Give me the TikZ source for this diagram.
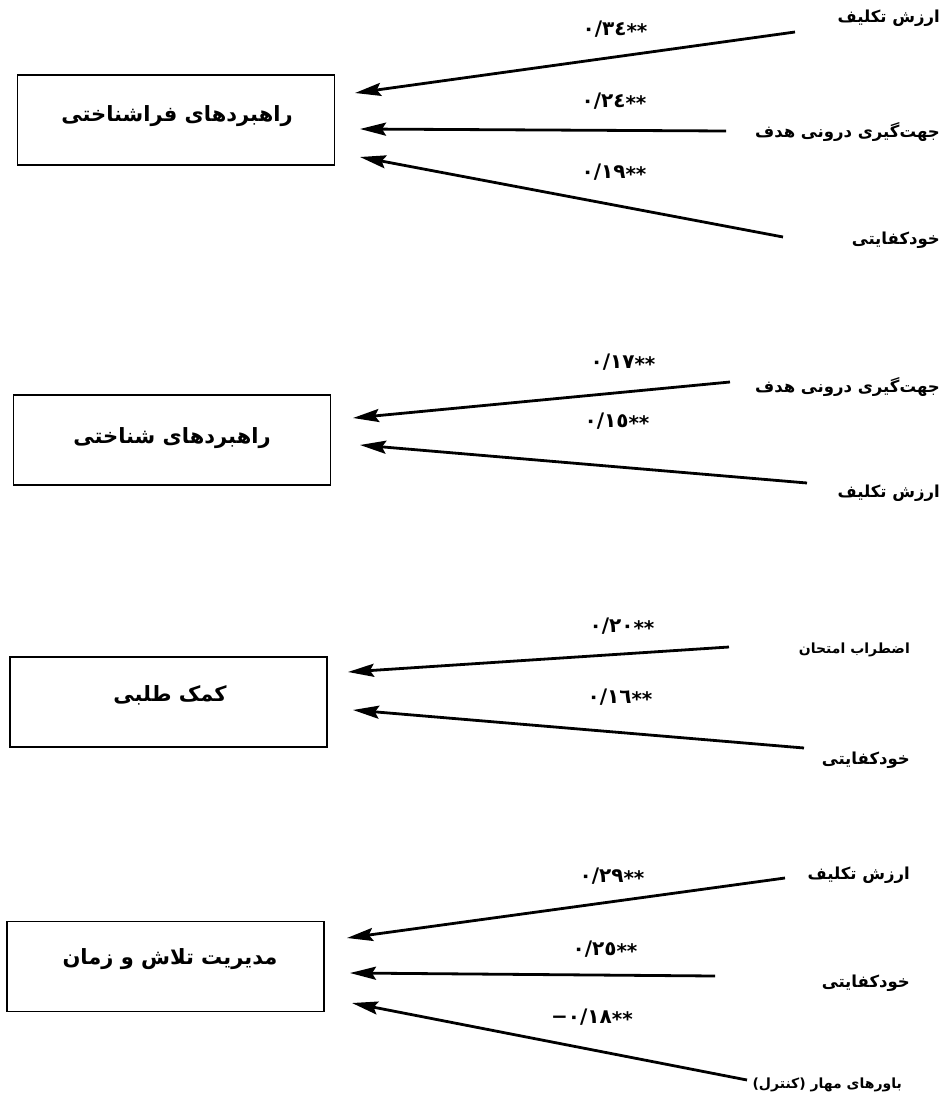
\documentclass[tikz,border=0pt]{standalone}
\usepackage{fontspec}
\setmainfont{DejaVu Sans}
\newfontfamily\fa[Script=Arabic]{DejaVu Sans}
\newfontfamily\numfont{DejaVu Sans}
\TeXXeTstate=1
\usetikzlibrary{arrows.meta}
\newcommand\rtl[1]{\beginR #1\endR}
\newcommand\stars{\raisebox{-0.3ex}{**}}
\tikzset{
  boxnode/.style={draw, line width=1.3pt, minimum width=317pt, minimum height=90pt, inner sep=0pt},
  boxtext/.style={inner sep=0pt, font=\fa\bfseries\fontsize{21}{25}\selectfont},
  srcnode/.style={anchor=east, inner sep=0pt, font=\fa\bfseries\fontsize{16.5}{19}\selectfont},
  srcsmall/.style={srcnode, font=\fa\bfseries\fontsize{14}{17}\selectfont},
  coefnode/.style={inner sep=0pt, font=\numfont\bfseries\fontsize{20}{22}\selectfont},
  arr/.style={line width=2.8pt, -{Stealth[length=26pt,width=13pt,inset=4pt]}}
}
\begin{document}
\begin{tikzpicture}[x=1pt,y=-1pt]
\useasboundingbox (0,0) rectangle (947,1097);
% ---------- group 1
\node[boxnode] (b1) at (176,120) {};
\node[boxtext] (l1) at (177,116) {\rtl{راهبردهای فراشناختی}};
\node[srcnode] (s1a) at (940,18) {\rtl{ارزش تکلیف}};
\node[srcnode] (s1b) at (940,132) {\rtl{جهت‌گیری درونی هدف}};
\node[srcnode] (s1c) at (940,240) {\rtl{خودکفایتی}};
\coordinate (t1a) at (795,32);  \coordinate (h1a) at (355,93);
\coordinate (t1b) at (726,131); \coordinate (h1b) at (360,129);
\coordinate (t1c) at (783,237); \coordinate (h1c) at (360,157);
\draw[arr] (t1a) -- (h1a);
\draw[arr] (t1b) -- (h1b);
\draw[arr] (t1c) -- (h1c);
\node[coefnode] (c1a) at (615,30) {٠/٣٤\stars};
\node[coefnode] (c1b) at (614,102) {٠/٢٤\stars};
\node[coefnode] (c1c) at (614,173) {٠/١٩\stars};
% ---------- group 2
\node[boxnode] (b2) at (172,440) {};
\node[boxtext] (l2) at (172,438) {\rtl{راهبردهای شناختی}};
\node[srcnode] (s2a) at (940,387) {\rtl{جهت‌گیری درونی هدف}};
\node[srcnode] (s2b) at (940,493) {\rtl{ارزش تکلیف}};
\coordinate (t2a) at (730,382); \coordinate (h2a) at (353,418);
\coordinate (t2b) at (807,483); \coordinate (h2b) at (360,445);
\draw[arr] (t2a) -- (h2a);
\draw[arr] (t2b) -- (h2b);
\node[coefnode] (c2a) at (623,363) {٠/١٧\stars};
\node[coefnode] (c2b) at (617,422) {٠/١٥\stars};
% ---------- group 3
\node[boxnode] (b3) at (168.5,702) {};
\node[boxtext] (l3) at (170,695) {\rtl{کمک طلبی}};
\node[srcsmall] (s3a) at (910,650) {\rtl{اضطراب امتحان}};
\node[srcnode] (s3b) at (910,760) {\rtl{خودکفایتی}};
\coordinate (t3a) at (729,647); \coordinate (h3a) at (348,672);
\coordinate (t3b) at (804,748); \coordinate (h3b) at (353,710);
\draw[arr] (t3a) -- (h3a);
\draw[arr] (t3b) -- (h3b);
\node[coefnode] (c3a) at (622,627) {٠/٢٠\stars};
\node[coefnode] (c3b) at (620,698) {٠/١٦\stars};
% ---------- group 4
\node[boxnode] (b4) at (165.5,966.5) {};
\node[boxtext] (l4) at (170,959) {\rtl{مدیریت تلاش و زمان}};
\node[srcnode] (s4a) at (910,875) {\rtl{ارزش تکلیف}};
\node[srcnode] (s4b) at (910,983) {\rtl{خودکفایتی}};
\node[srcsmall] (s4c) at (902,1085) {\rtl{باورهای مهار (کنترل)}};
\coordinate (t4a) at (785,878);  \coordinate (h4a) at (347,938);
\coordinate (t4b) at (715,976);  \coordinate (h4b) at (350,973);
\coordinate (t4c) at (747,1080); \coordinate (h4c) at (352,1003);
\draw[arr] (t4a) -- (h4a);
\draw[arr] (t4b) -- (h4b);
\draw[arr] (t4c) -- (h4c);
\node[coefnode] (c4a) at (612,877) {٠/٢٩\stars};
\node[coefnode] (c4b) at (605,950) {٠/٢٥\stars};
\node[coefnode] (c4c) at (592,1018) {−٠/١٨\stars};
\end{tikzpicture}
\end{document}
